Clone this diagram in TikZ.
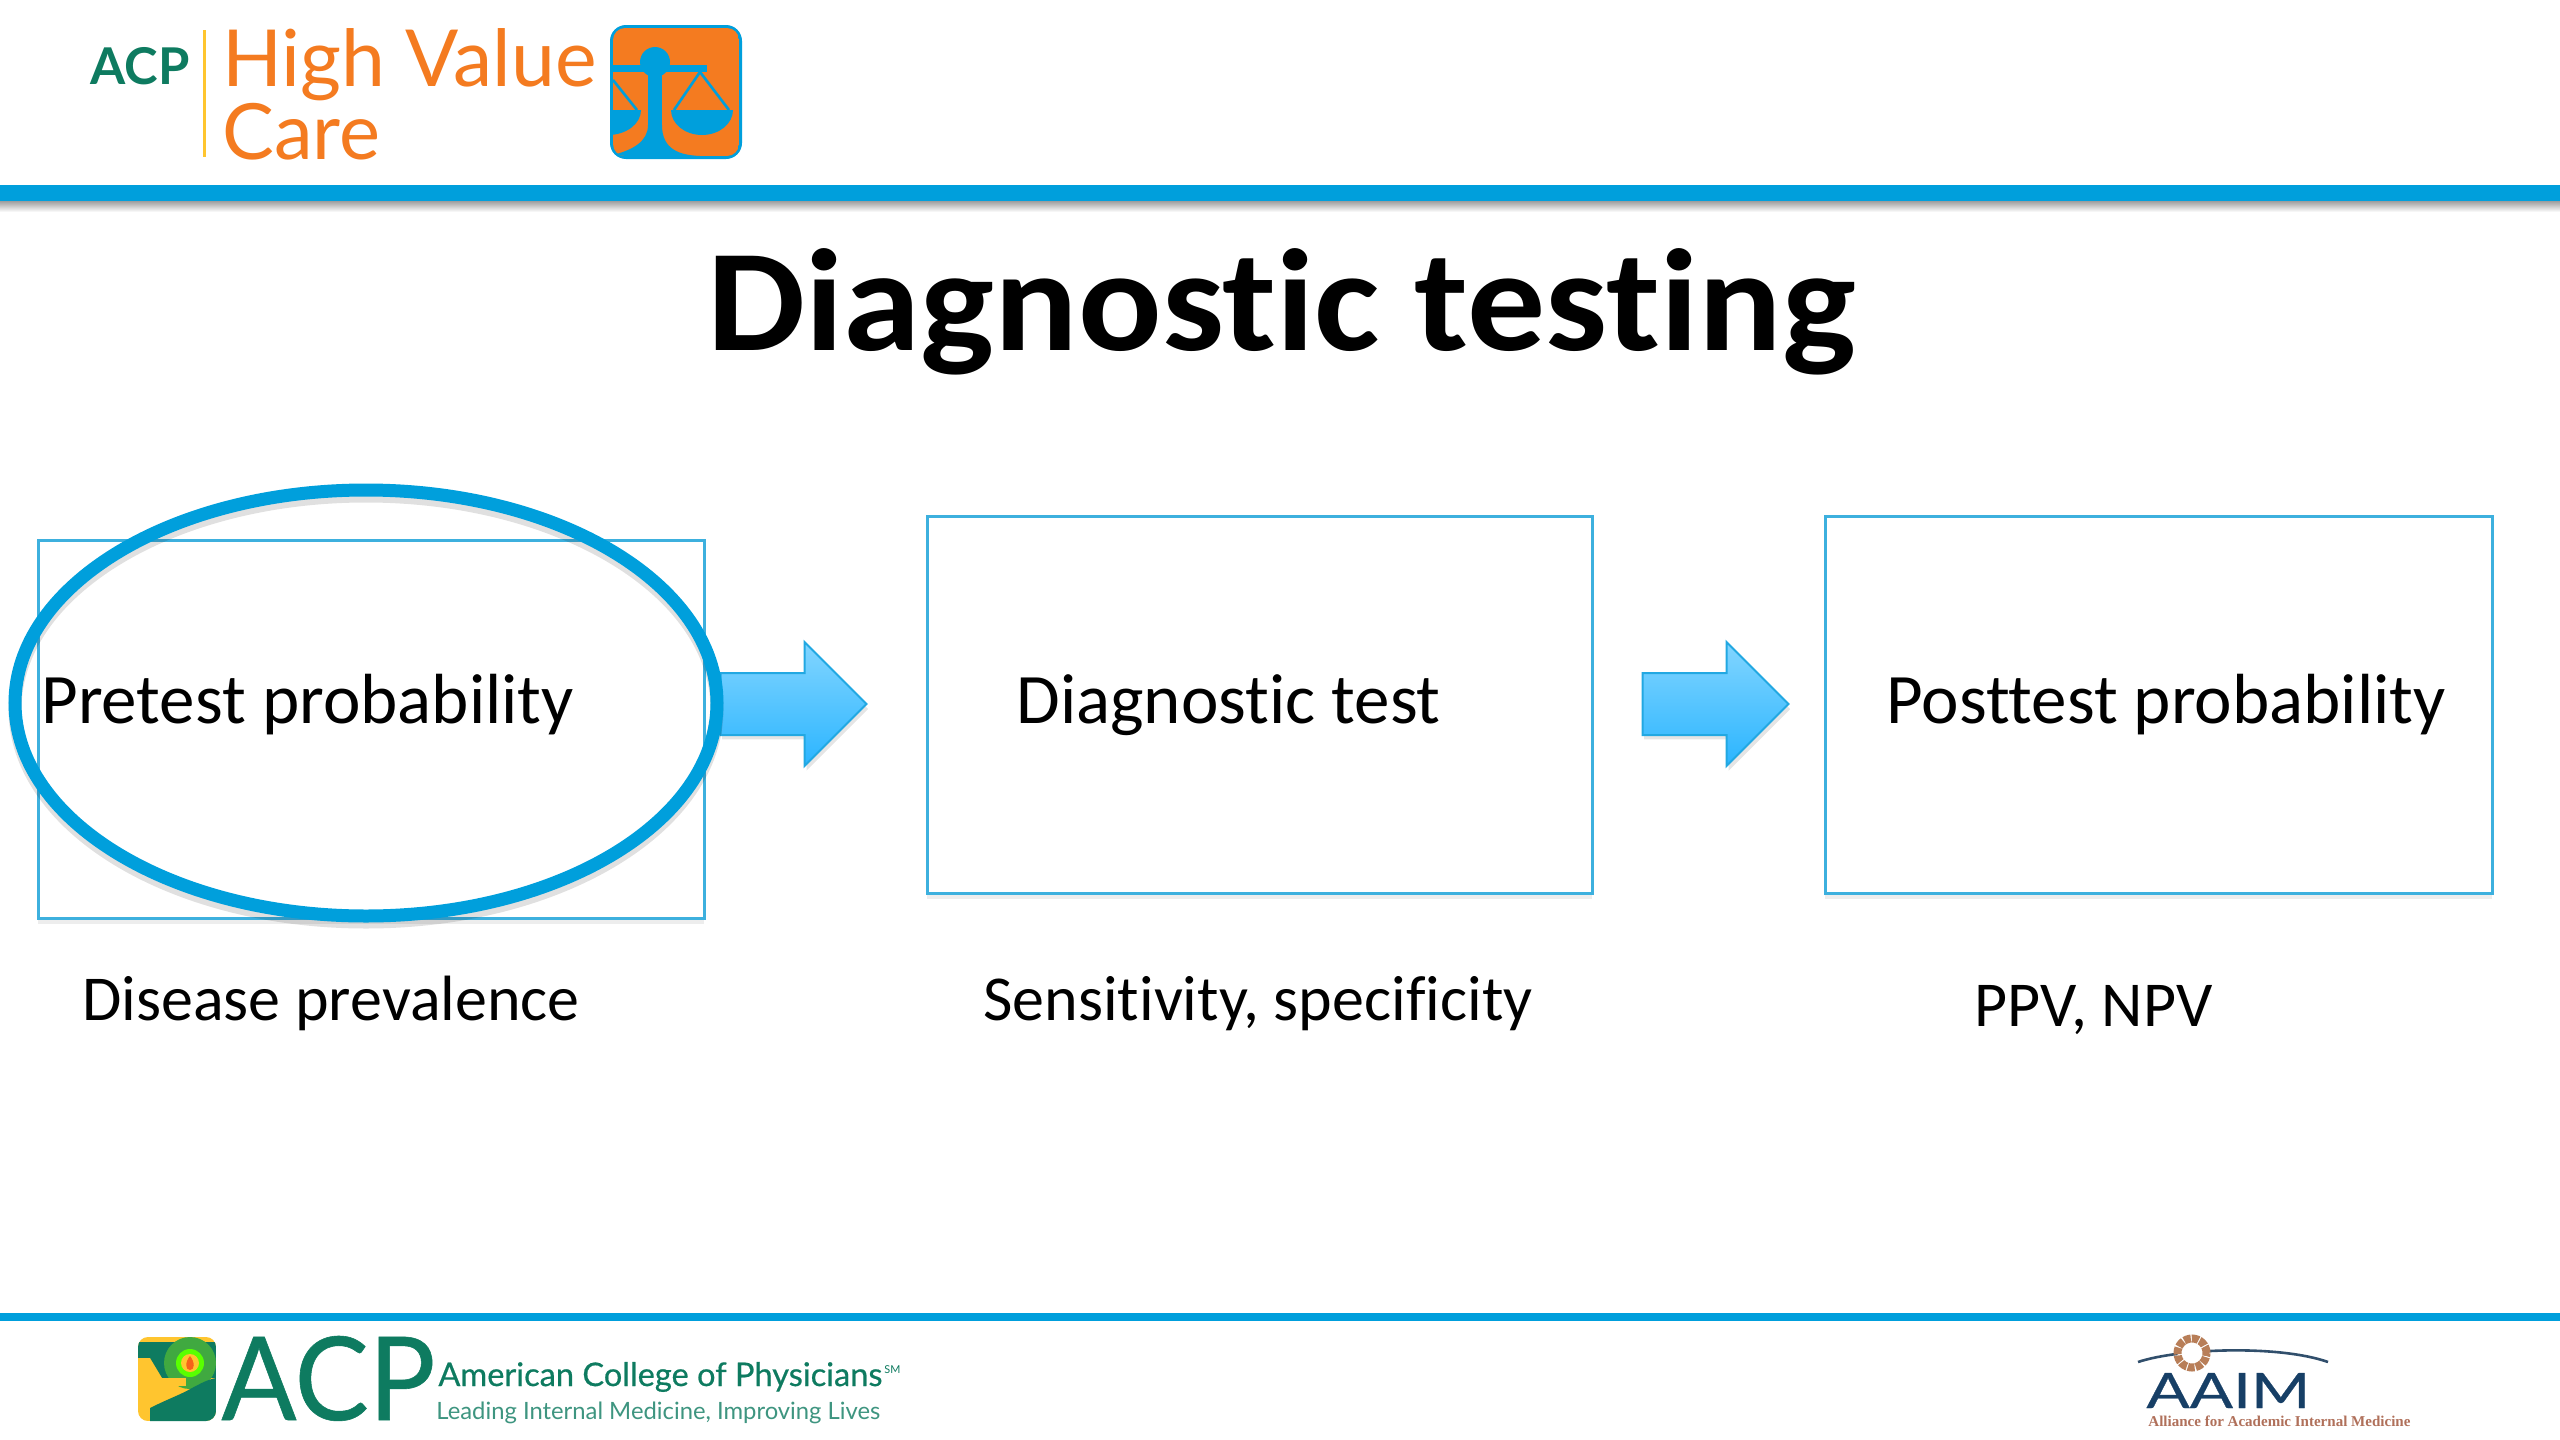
\documentclass[tikz,border=0pt]{standalone}
\usepackage{fontspec}
\usepackage{graphicx}
\usetikzlibrary{shapes.arrows}
\setmainfont[Ligatures=NoCommon]{Carlito}
\newfontfamily\logofont{Lato}
\newfontfamily\logomed[FakeBold=0.5]{Lato}
\newfontfamily\aaimfont{Liberation Serif}
\definecolor{bandblue}{HTML}{009FDC}
\definecolor{boxblue}{HTML}{3DB0DE}
\definecolor{logoorange}{HTML}{F47B20}
\definecolor{logogreen}{HTML}{0E7B60}
\definecolor{logoyellow}{HTML}{FFC52F}
\definecolor{arrowtop}{HTML}{82D5FF}
\definecolor{arrowbot}{HTML}{2BB5FF}
\definecolor{arrowline}{HTML}{22A8E2}
\definecolor{aaimblue}{HTML}{173F66}
\definecolor{aaimbrown}{HTML}{B0705A}
\definecolor{ringbrown}{HTML}{B87E58}
\newcommand{\fitw}[2]{\resizebox{#1}{!}{#2}}
\newcommand{\fitwh}[3]{\resizebox{#1}{#2}{#3}}
\tikzset{
  stagebox/.style={draw=boxblue,line width=1.5pt,fill=none,inner sep=0pt,outer sep=0pt,anchor=north west},
  boxshadow/.style={fill=black,opacity=.07},
  stagetext/.style={anchor=base west,inner sep=0pt,font=\fontsize{35.5}{40}\selectfont,text=black},
  subtext/.style={anchor=base west,inner sep=0pt,font=\fontsize{32}{38}\selectfont,text=black},
  blockarrow/.style={single arrow,draw=arrowline,line width=1pt,top color=arrowtop,bottom color=arrowbot,
     minimum height=73pt,minimum width=61.5pt,inner xsep=0pt,inner ysep=15pt,single arrow head extend=15.5pt,outer sep=0pt},
  arrowshade/.style={single arrow,fill=black,opacity=.10,draw=none,
     minimum height=73pt,minimum width=61.5pt,inner xsep=0pt,inner ysep=15pt,single arrow head extend=15.5pt},
  logotext/.style={anchor=base west,inner sep=0pt},
}
\begin{document}
\begin{tikzpicture}[x=0.5pt,y=-0.5pt]
\useasboundingbox (0,0) rectangle (2560,1440);
\fill[white] (0,0) rectangle (2560,1440);

% header band
\shade[top color=black!45,bottom color=white] (0,199) rectangle (2560,212);
\fill[bandblue] (0,185) rectangle (2560,201);
% footer line
\fill[bandblue] (0,1313) rectangle (2560,1321);

% HVC logo
\node[logotext,text=logogreen] (acp) at (90,84) {\fitw{49.5pt}{\logofont\bfseries ACP}};
\coordinate (divtop) at (204,30);
\coordinate (divbot) at (204,157);
\draw[logoyellow,line width=1.5pt] (divtop) -- (divbot);
\node[logotext,text=logoorange] (hv) at (222,86) {\fitw{187pt}{\logofont High Value}};
\node[logotext,text=logoorange] (care) at (222,159) {\fitw{79pt}{\logofont Care}};
% scales icon
\begin{scope}
\fill[bandblue,rounded corners=8pt] (610,25) rectangle (742,159);
\clip[rounded corners=6pt] (613,28) rectangle (739,156);
\fill[logoorange] (613,28) rectangle (739,156);
\fill[bandblue] (655,62) circle[radius=15];
\fill[bandblue] (613,65) rectangle (707,72);
\fill[bandblue] (648,70) rectangle (662,137);
\fill[bandblue] (648,125) .. controls (648,142) and (632,150) .. (613,155) -- (613,160) -- (739,160) -- (739,156)
   -- (700,156) .. controls (680,155) and (662,150) .. (662,125) -- cycle;
\fill[bandblue] (671,110) arc[start angle=180,end angle=0,x radius=31,y radius=25] -- cycle;
\fill[bandblue] (641,110) arc[start angle=0,end angle=180,x radius=33,y radius=25] -- cycle;
\draw[bandblue,line width=1.3pt] (700,72) -- (674,110) (700,72) -- (729,110) (613,80) -- (637,110);
\end{scope}

% title
\node[anchor=base west,inner sep=0pt] (title) at (707,350) {\fitwh{574pt}{51pt}{\fontsize{72}{76}\selectfont\bfseries Diagnostic testing}};

% arrows (under ellipse)
\node[arrowshade] (arrowAshade) at (780,709) {};
\node[arrowshade] (arrowBshade) at (1702,709) {};
\node[blockarrow] (arrowA) at (778,704) {};
\node[blockarrow] (arrowB) at (1700,704) {};

% boxes
\fill[boxshadow] (38,918) rectangle (704,924);
\fill[boxshadow] (927,893) rectangle (1592,899);
\fill[boxshadow] (1825,893) rectangle (2492,899);
\draw[stagebox] (38,540) rectangle (704,918) node[pos=.5,inner sep=0pt] (boxA) {};
\draw[stagebox] (927,516) rectangle (1592,893) node[pos=.5,inner sep=0pt] (boxB) {};
\draw[stagebox] (1825,516) rectangle (2492,893) node[pos=.5,inner sep=0pt] (boxC) {};

% ellipse
\draw[black,opacity=.12,line width=6.5pt] (366,709) ellipse[x radius=351,y radius=213];
\draw[bandblue,line width=6.5pt] (366,703) ellipse[x radius=351,y radius=213];

% texts
\node[stagetext] (tA) at (41,723) {Pretest probability};
\node[stagetext] (tB) at (1016,723) {Diagnostic test};
\node[stagetext] (tC) at (1886,723) {Posttest probability};
\node[subtext] (sA) at (82,1020) {Disease prevalence};
\node[subtext] (sB) at (983,1020) {Sensitivity, specificity};
\node[subtext] (sC) at (1974,1026) {PPV, NPV};

% ACP footer logo
\begin{scope}
\clip[rounded corners=5pt] (138,1337) rectangle (216,1421);
\fill[logoyellow] (138,1337) rectangle (216,1421);
\fill[logogreen] (138,1342) -- (216,1342) -- (216,1378) -- (138,1378) -- cycle;
\fill[logoyellow] (138,1378) -- (138,1358) -- (150,1358) -- (162,1378) -- cycle;
\fill[green!55!black!75] (190,1363) circle[radius=26];
\fill[green!65!yellow] (190,1363) circle[radius=14];
\fill[logoyellow] (190,1363) circle[radius=9];
\fill[logoorange!80!red] (190,1356) .. controls (195,1362) and (195,1370) .. (190,1370) .. controls (185,1370) and (185,1362) .. (190,1356);
\fill[logoyellow] (138,1378) rectangle (186,1386);
\fill[logogreen] (150,1421) -- (150,1408) .. controls (170,1398) and (180,1395) .. (192,1388) .. controls (200,1384) and (206,1380) .. (216,1378) -- (216,1421) -- cycle;
\end{scope}
\node[logotext,text=logogreen] (acpbig) at (221,1420) {\fitwh{107pt}{42pt}{\logomed ACP}};
\node[logotext,text=logogreen] (acpname) at (438,1386) {\fitw{222pt}{\logomed American College of Physicians}};
\node[logotext,text=logogreen] (acpsm) at (884,1373) {\fitw{8pt}{\logofont SM}};
\node[logotext,text=logogreen!80!white] (acptag) at (436,1419) {\fitw{222pt}{\logofont Leading Internal Medicine, Improving Lives}};

% AAIM logo
\coordinate (arcL) at (2138,1362);
\coordinate (arcR) at (2328,1362);
\draw[aaimblue!75!gray,line width=1.3pt] (arcL) .. controls (2180,1348) and (2280,1345) .. (arcR);
\node[circle,fill=white,draw=ringbrown,line width=4pt,dash pattern=on 3.4pt off .6pt,minimum size=14.5pt,inner sep=0pt,outer sep=0pt] (ring) at (2192,1353) {};
\node[logotext,text=aaimblue] (aaim) at (2146,1408) {\fitwh{82pt}{17.5pt}{\logomed AAIM}};
\node[logotext,text=aaimbrown] (aaimfull) at (2148,1426) {\fitw{131pt}{\aaimfont\bfseries Alliance for Academic Internal Medicine}};
\end{tikzpicture}
\end{document}
